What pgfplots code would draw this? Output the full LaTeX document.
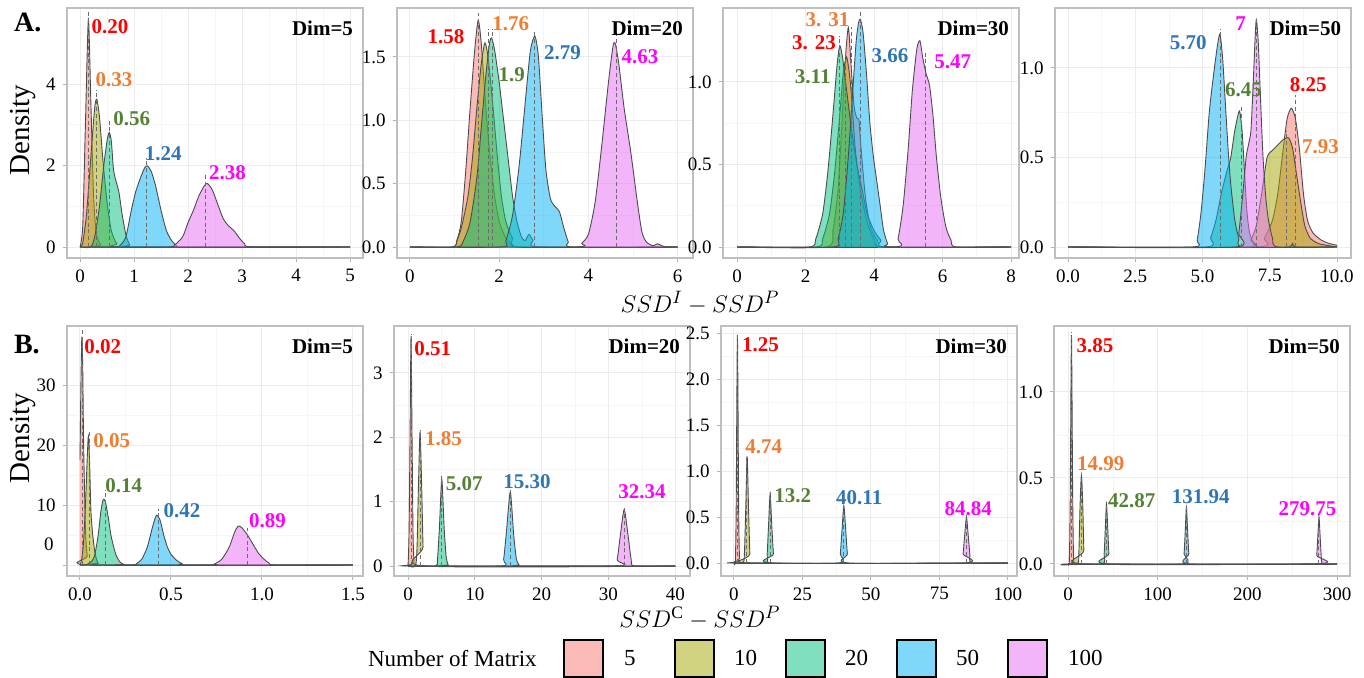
\documentclass[border=0pt]{standalone}
\usepackage{fontspec}
\setmainfont{Liberation Serif}
\usepackage{pgfplots}
\pgfplotsset{compat=1.18}

\definecolor{f5}{HTML}{F8766D}
\definecolor{f10}{HTML}{A3A500}
\definecolor{f20}{HTML}{00BF7D}
\definecolor{f50}{HTML}{00B0F6}
\definecolor{f100}{HTML}{E76BF3}
\definecolor{l5}{HTML}{FF0000}
\definecolor{l10}{HTML}{ED7D31}
\definecolor{l20}{HTML}{548235}
\definecolor{l50}{HTML}{2E75B6}
\definecolor{l100}{HTML}{FF00FF}

\pgfplotsset{
  panel/.style={
    scale only axis, width=148pt, height=125pt, anchor=south west,
    axis line style={gray!50, line width=0.6pt},
    grid=both,
    major grid style={gray!15, line width=0.5pt},
    minor grid style={gray!8, line width=0.35pt},
    minor tick num=1, minor tick length=0pt,
    tick align=outside, major tick length=2.2pt,
    tick style={gray!60, line width=0.5pt},
    xtick pos=bottom, ytick pos=left,
    tick label style={font=\fontsize{9.5}{10}\selectfont, text=black},
    /pgf/number format/assume math mode=true,
    clip=false,
  },
}
% one density: fill at half opacity, then its outline
\newcommand{\dens}[2]{%
  \addplot[draw=none, fill=#1, fill opacity=0.5, smooth, tension=0.4, forget plot] coordinates {#2} \closedcycle;
  \addplot[draw=black!70, line width=0.45pt, smooth, tension=0.4, forget plot] coordinates {#2};}
\newcommand{\mline}[2]{%
  \addplot[gray!85!black, dash pattern=on 2pt off 1.4pt, line width=0.5pt, forget plot] coordinates {(#1,0) (#1,#2)};}
\newcommand{\lab}[4]{\node[font=\bfseries\fontsize{10.5}{11}\selectfont, text=#1] at (axis cs:#2,#3) {#4};}
\newcommand{\dimlab}[1]{\node[anchor=east, font=\bfseries\fontsize{10.5}{11}\selectfont] at (rel axis cs:0.99,0.92) {Dim=#1};}

\begin{document}
\begin{tikzpicture}
\path[use as bounding box] (0,0) rectangle (682pt,-338.5pt);

% ---------------- row A ----------------
\begin{axis}[panel, at={(33.5pt,-129pt)},
  xmin=-0.241, xmax=5.24, ymin=-0.27, ymax=5.865,
  xtick={0,1,2,3,4,5}, ytick={0,2,4}]
\dens{f5}{(0,0) (0.05,0.5) (0.1,3.0) (0.155,5.6) (0.2,3.6) (0.25,1.3) (0.3,0.35) (0.38,0.05) (0.45,0) (5,0)}
\dens{f10}{(0,0) (0.05,0.1) (0.12,0.8) (0.2,2.2) (0.27,3.4) (0.31,3.63) (0.36,3.2) (0.42,2.2) (0.5,1.1) (0.58,0.4) (0.68,0.08) (0.8,0) (5,0)}
\dens{f20}{(0,0) (0.2,0) (0.28,0.3) (0.36,1.0) (0.44,2.0) (0.5,2.6) (0.54,2.81) (0.58,2.6) (0.62,1.9) (0.67,1.6) (0.72,1.35) (0.78,0.8) (0.85,0.3) (0.92,0.05) (1.0,0) (5,0)}
\dens{f50}{(0,0) (0.65,0) (0.75,0.05) (0.85,0.25) (0.95,0.9) (1.03,1.35) (1.12,1.7) (1.2,1.95) (1.25,1.99) (1.32,1.85) (1.4,1.5) (1.5,0.9) (1.6,0.4) (1.7,0.15) (1.8,0.02) (1.9,0) (5,0)}
\dens{f100}{(0,0) (1.6,0) (1.75,0.05) (1.9,0.25) (2.0,0.6) (2.1,0.9) (2.2,1.25) (2.3,1.5) (2.36,1.56) (2.45,1.4) (2.55,1.05) (2.65,0.7) (2.75,0.52) (2.85,0.4) (2.95,0.22) (3.05,0.08) (3.2,0) (5,0)}
\mline{0.15}{5.78}\mline{0.31}{3.85}\mline{0.55}{3.12}\mline{1.24}{2.18}\mline{2.33}{1.8}
\lab{l5}{0.556}{5.4}{0.20}
\lab{l10}{0.63}{4.1}{0.33}
\lab{l20}{0.957}{3.16}{0.56}
\lab{l50}{1.54}{2.3}{1.24}
\lab{l100}{2.73}{1.82}{2.38}
\dimlab{5}
\end{axis}

\begin{axis}[panel, at={(198.5pt,-129pt)},
  xmin=-0.291, xmax=6.346, ymin=-0.0868, ymax=1.886,
  xtick={0,2,4,6}, ytick={0,0.5,1,1.5}, yticklabels={0.0,0.5,1.0,1.5}]
\dens{f5}{(0,0) (0.95,0) (1.05,0.05) (1.15,0.2) (1.25,0.6) (1.35,1.1) (1.45,1.55) (1.53,1.79) (1.6,1.6) (1.7,1.1) (1.8,0.7) (1.9,0.4) (2.0,0.2) (2.15,0.07) (2.3,0.02) (2.5,0) (6,0)}
\dens{f10}{(0,0) (0.95,0) (1.05,0.05) (1.15,0.15) (1.3,0.4) (1.4,0.7) (1.5,1.1) (1.6,1.45) (1.68,1.61) (1.75,1.5) (1.85,1.15) (1.95,0.75) (2.05,0.4) (2.15,0.2) (2.3,0.07) (2.5,0) (6,0)}
\dens{f20}{(0,0) (1.05,0) (1.2,0.05) (1.35,0.2) (1.5,0.55) (1.6,0.95) (1.7,1.35) (1.78,1.6) (1.83,1.65) (1.9,1.55) (2.0,1.3) (2.1,1.0) (2.2,0.7) (2.3,0.4) (2.4,0.2) (2.5,0.08) (2.58,0.05) (2.67,0.1) (2.76,0.05) (2.9,0) (6,0)}
\dens{f50}{(0,0) (2.05,0) (2.15,0.05) (2.3,0.25) (2.45,0.65) (2.6,1.2) (2.7,1.55) (2.8,1.665) (2.88,1.5) (2.97,1.0) (3.05,0.6) (3.15,0.38) (3.25,0.32) (3.35,0.28) (3.45,0.15) (3.55,0.04) (3.65,0) (6,0)}
\dens{f100}{(0,0) (3.7,0) (3.85,0.03) (4.0,0.1) (4.15,0.35) (4.3,0.8) (4.45,1.3) (4.55,1.58) (4.6,1.61) (4.68,1.45) (4.8,1.1) (4.95,0.75) (5.1,0.35) (5.2,0.12) (5.3,0.04) (5.45,0.01) (5.55,0.025) (5.65,0.01) (5.75,0) (6,0)}
\mline{1.53}{1.85}\mline{1.76}{1.72}\mline{1.85}{1.72}\mline{2.8}{1.71}\mline{4.63}{1.69}
\lab{l5}{0.81}{1.66}{1.58}
\lab{l10}{2.26}{1.76}{1.76}
\lab{l20}{2.28}{1.36}{1.9}
\lab{l50}{3.42}{1.53}{2.79}
\lab{l100}{5.16}{1.50}{4.63}
\dimlab{20}
\end{axis}

\begin{axis}[panel, at={(361.5pt,-129pt)},
  xmin=-0.409, xmax=8.233, ymin=-0.0667, ymax=1.448,
  xtick={0,2,4,6,8}, ytick={0,0.5,1}, yticklabels={0.0,0.5,1.0}]
\dens{f5}{(0,0) (2.6,0) (2.8,0.1) (2.95,0.35) (3.05,0.7) (3.15,1.1) (3.25,1.33) (3.33,1.1) (3.42,0.85) (3.5,0.78) (3.56,0.77) (3.62,0.6) (3.75,0.3) (3.9,0.12) (4.1,0.04) (4.3,0) (8,0)}
\dens{f10}{(0,0) (2.3,0) (2.5,0.05) (2.7,0.2) (2.85,0.45) (3.0,0.8) (3.1,1.05) (3.2,1.15) (3.28,1.05) (3.35,0.9) (3.45,0.6) (3.6,0.35) (3.8,0.15) (4.0,0.05) (4.3,0) (8,0)}
\dens{f20}{(0,0) (2.1,0) (2.3,0.05) (2.5,0.2) (2.65,0.45) (2.8,0.8) (2.92,1.1) (3.0,1.22) (3.08,1.15) (3.2,0.95) (3.35,0.7) (3.5,0.5) (3.65,0.35) (3.8,0.2) (4.0,0.1) (4.2,0.04) (4.35,0) (8,0)}
\dens{f50}{(0,0) (2.8,0) (2.95,0.05) (3.1,0.2) (3.25,0.55) (3.38,0.95) (3.48,1.25) (3.55,1.36) (3.6,1.38) (3.68,1.3) (3.78,1.05) (3.88,0.75) (3.98,0.55) (4.08,0.4) (4.18,0.25) (4.28,0.1) (4.4,0.02) (4.5,0) (8,0)}
\dens{f100}{(0,0) (4.55,0) (4.7,0.05) (4.85,0.25) (5.0,0.6) (5.12,0.95) (5.25,1.2) (5.34,1.25) (5.42,1.15) (5.52,1.05) (5.62,0.98) (5.72,0.8) (5.82,0.55) (5.95,0.3) (6.1,0.12) (6.25,0.04) (6.4,0) (8,0)}
\mline{2.99}{1.28}\mline{3.18}{1.17}\mline{3.35}{1.33}\mline{3.61}{1.43}\mline{5.49}{1.18}
\lab{l10}{2.64}{1.38}{3. 31}
\lab{l5}{2.25}{1.24}{3. 23}
\lab{l20}{2.21}{1.03}{3.11}
\lab{l50}{4.47}{1.16}{3.66}
\lab{l100}{6.3}{1.12}{5.47}
\dimlab{30}
\end{axis}

\begin{axis}[panel, at={(527.5pt,-129pt)},
  xmin=-0.483, xmax=10.52, ymin=-0.0615, ymax=1.335,
  xtick={0,2.5,5,7.5,10}, xticklabels={0.0,2.5,5.0,7.5,10.0},
  ytick={0,0.5,1}, yticklabels={0.0,0.5,1.0}]
\dens{f5}{(0,0) (7.0,0) (7.3,0.05) (7.6,0.15) (7.8,0.3) (8.0,0.55) (8.15,0.72) (8.3,0.775) (8.45,0.72) (8.6,0.55) (8.75,0.3) (8.9,0.15) (9.1,0.08) (9.4,0.04) (9.7,0.02) (10,0.01)}
\dens{f10}{(0,0) (6.6,0) (6.8,0.04) (7.0,0.12) (7.2,0.3) (7.4,0.5) (7.6,0.54) (7.8,0.57) (8.0,0.6) (8.2,0.61) (8.35,0.55) (8.5,0.4) (8.65,0.25) (8.8,0.12) (9.0,0.05) (9.3,0.02) (9.6,0.01) (10,0)}
\dens{f20}{(0,0) (5.1,0) (5.3,0.05) (5.5,0.15) (5.7,0.3) (5.9,0.42) (6.05,0.5) (6.2,0.65) (6.37,0.76) (6.47,0.65) (6.55,0.45) (6.65,0.2) (6.75,0.08) (6.9,0.02) (7.1,0) (8.2,0) (8.35,0.02) (8.5,0) (10,0)}
\dens{f50}{(0,0) (4.6,0) (4.8,0.04) (4.95,0.2) (5.1,0.45) (5.25,0.75) (5.4,0.95) (5.55,1.12) (5.65,1.19) (5.75,1.05) (5.85,0.8) (5.95,0.55) (6.05,0.35) (6.2,0.15) (6.35,0.05) (6.55,0) (10,0)}
\dens{f100}{(0,0) (6.2,0) (6.35,0.08) (6.5,0.3) (6.62,0.5) (6.72,0.58) (6.8,0.65) (6.88,0.9) (6.95,1.15) (7.0,1.27) (7.07,1.15) (7.15,0.85) (7.25,0.5) (7.35,0.28) (7.45,0.15) (7.6,0.05) (7.8,0) (10,0)}
\mline{5.68}{1.22}\mline{6.46}{0.79}\mline{7.01}{1.29}\mline{8.13}{0.65}\mline{8.44}{0.85}
\lab{l50}{4.47}{1.14}{5.70}
\lab{l100}{6.42}{1.25}{7}
\lab{l20}{6.52}{0.88}{6.45}
\lab{l5}{8.93}{0.905}{8.25}
\lab{l10}{9.39}{0.56}{7.93}
\dimlab{50}
\end{axis}

% ---------------- row B ----------------
\begin{axis}[panel, at={(33.5pt,-288pt)},
  xmin=-0.0714, xmax=1.555, ymin=-1.833, ymax=39.83,
  xtick={0,0.5,1,1.5}, xticklabels={0.0,0.5,1.0,1.5},
  ytick={0,10,20,30}, yticklabels={,10,20,30}]
\dens{f5}{(0,17.5) (0.005,30) (0.01,37.8) (0.015,33) (0.02,20) (0.03,6) (0.04,1.5) (0.06,0) (1.5,0)}
\dens{f10}{(0,0) (0.01,1) (0.02,4) (0.03,10) (0.04,18) (0.046,21.5) (0.052,18) (0.06,9) (0.07,5) (0.08,2.5) (0.09,1) (0.1,0.3) (0.12,0) (1.5,0)}
\dens{f20}{(0,0) (0.03,0) (0.06,0.5) (0.08,1.5) (0.1,5) (0.115,9) (0.128,10.95) (0.14,10.5) (0.155,8) (0.17,5) (0.185,3) (0.2,1.5) (0.22,0.5) (0.24,0.1) (0.26,0) (1.5,0)}
\dens{f50}{(0,0) (0.28,0) (0.31,0.2) (0.34,1) (0.37,3) (0.4,6.5) (0.42,8.3) (0.44,7.5) (0.46,5) (0.48,3) (0.5,1.8) (0.53,0.8) (0.56,0.25) (0.6,0) (1.5,0)}
\dens{f100}{(0,0) (0.7,0) (0.74,0.2) (0.78,1) (0.82,3) (0.85,5.5) (0.87,6.5) (0.89,6.2) (0.92,5) (0.95,3.5) (0.98,2) (1.01,1) (1.04,0.3) (1.08,0) (1.5,0)}
\mline{0.015}{39.5}\mline{0.05}{22.5}\mline{0.14}{12.5}\mline{0.43}{9.4}\mline{0.92}{6.1}
\lab{l5}{0.125}{36.4}{0.02}
\lab{l10}{0.174}{20.7}{0.05}
\lab{l20}{0.24}{13.3}{0.14}
\lab{l50}{0.56}{9.05}{0.42}
\lab{l100}{1.03}{7.4}{0.89}
\node[anchor=east, font=\fontsize{9.5}{10}\selectfont] at (axis cs:-0.0714,3.5) [xshift=-3.2pt] {0};
\dimlab{5}
\end{axis}

\begin{axis}[panel, at={(197pt,-288pt)},
  xmin=-2.1, xmax=42.2, ymin=-0.155, ymax=3.727,
  xtick={0,10,20,30,40}, ytick={0,1,2,3}]
\dens{f5}{(0,0) (0.15,0.5) (0.3,2) (0.45,3.57) (0.6,2) (0.75,0.5) (0.9,0.05) (1.0,0) (40,0)}
\dens{f10}{(0,0) (1.1,0) (1.35,0.3) (1.55,1.2) (1.8,2.09) (2.05,1.2) (2.25,0.3) (2.5,0) (40,0)}
\dens{f20}{(0,0) (4.1,0) (4.4,0.1) (4.7,0.6) (5.05,1.35) (5.4,0.6) (5.7,0.15) (6.0,0.02) (6.3,0) (40,0)}
\dens{f50}{(0,0) (13.9,0) (14.3,0.1) (14.7,0.5) (15.3,1.15) (15.8,0.5) (16.2,0.12) (16.6,0.02) (17,0) (40,0)}
\dens{f100}{(0,0) (30.8,0) (31.3,0.1) (31.8,0.5) (32.35,0.88) (32.9,0.5) (33.4,0.1) (33.9,0) (40,0)}
\mline{0.51}{3.6}\mline{1.85}{2.12}\mline{5.07}{1.4}\mline{15.3}{1.18}\mline{32.34}{0.93}
\lab{l5}{3.7}{3.38}{0.51}
\lab{l10}{5.3}{1.97}{1.85}
\lab{l20}{8.4}{1.28}{5.07}
\lab{l50}{17.8}{1.31}{15.30}
\lab{l100}{35}{1.15}{32.34}
\dimlab{20}
\end{axis}

\begin{axis}[panel, at={(360.5pt,-288pt)},
  xmin=-4.74, xmax=103.3, ymin=-0.141, ymax=2.576,
  xtick={0,25,50,75,100}, ytick={0,0.5,1,1.5,2,2.5},
  yticklabels={0.0,0.5,1.0,1.5,2.0,2.5}]
\dens{f5}{(0,0) (0.5,0.02) (0.8,0.6) (1.25,2.48) (1.7,0.6) (2.0,0.05) (2.3,0) (100,0)}
\dens{f10}{(0,0) (3.3,0) (3.8,0.1) (4.3,0.6) (4.8,1.16) (5.3,0.6) (5.8,0.1) (6.3,0) (100,0)}
\dens{f20}{(0,0) (11.5,0) (12.1,0.1) (12.6,0.4) (13.2,0.75) (13.8,0.4) (14.4,0.1) (15,0) (100,0)}
\dens{f50}{(0,0) (38,0) (38.8,0.1) (39.4,0.35) (40.1,0.62) (40.8,0.35) (41.4,0.1) (42.2,0) (100,0)}
\dens{f100}{(0,0) (82.8,0) (83.6,0.1) (84.2,0.3) (84.85,0.5) (85.5,0.3) (86.1,0.1) (86.9,0) (100,0)}
\mline{1.25}{2.5}\mline{4.74}{1.18}\mline{13.2}{0.77}\mline{40.11}{0.64}\mline{84.84}{0.52}
\lab{l5}{9.7}{2.37}{1.25}
\lab{l10}{10.9}{1.26}{4.74}
\lab{l20}{21.4}{0.73}{13.2}
\lab{l50}{45.7}{0.71}{40.11}
\lab{l100}{85.5}{0.59}{84.84}
\dimlab{30}
\end{axis}

\begin{axis}[panel, at={(527pt,-288pt)},
  xmin=-15.6, xmax=314.4, ymin=-0.07, ymax=1.383,
  xtick={0,100,200,300}, ytick={0,0.5,1}, yticklabels={0.0,0.5,1.0}]
\dens{f5}{(0,0) (1.5,0.02) (2.5,0.4) (3.85,1.33) (5.2,0.4) (6.2,0.02) (7,0) (300,0)}
\dens{f10}{(0,0) (11,0) (12.2,0.08) (13.5,0.35) (14.99,0.52) (16.4,0.35) (17.7,0.08) (19,0) (300,0)}
\dens{f20}{(0,0) (38.5,0) (40.3,0.06) (41.7,0.22) (42.9,0.35) (44.2,0.22) (45.6,0.06) (47.3,0) (300,0)}
\dens{f50}{(0,0) (127.5,0) (129.4,0.06) (130.8,0.2) (132,0.33) (133.3,0.2) (134.7,0.06) (136.5,0) (300,0)}
\dens{f100}{(0,0) (275.5,0) (277.3,0.05) (278.6,0.17) (279.8,0.275) (281,0.17) (282.3,0.05) (284,0) (300,0)}
\mline{3.85}{1.35}\mline{14.99}{0.53}\mline{42.87}{0.36}\mline{131.94}{0.34}\mline{279.75}{0.29}
\lab{l5}{30}{1.27}{3.85}
\lab{l10}{36.4}{0.58}{14.99}
\lab{l20}{71}{0.37}{42.87}
\lab{l50}{148}{0.39}{131.94}
\lab{l100}{267}{0.32}{279.75}
\dimlab{50}
\end{axis}

% ---------------- outer texts ----------------
\node[anchor=west, font=\bfseries\fontsize{14}{15}\selectfont] at (3.5pt,-11pt) {A.};
\node[anchor=west, font=\bfseries\fontsize{14}{15}\selectfont] at (3.5pt,-172.5pt) {B.};
\node[rotate=90, font=\fontsize{14.5}{15}\selectfont] at (11.5pt,-65pt) {Density};
\node[rotate=90, font=\fontsize{14.5}{15}\selectfont] at (11.5pt,-219pt) {Density};
\node[font=\fontsize{12.5}{13}\selectfont] at (350pt,-151.5pt) {$SSD^{I}-SSD^{P}$};
\node[font=\fontsize{12.5}{13}\selectfont] at (350pt,-309pt) {$SSD^{\mathrm{C}}-SSD^{P}$};

% legend
\node[anchor=west, font=\fontsize{11.5}{12}\selectfont] at (180.5pt,-329pt) {Number of Matrix};
\foreach \c/\xa/\xl/\t in {f5/282/308.5/5, f10/337.5/363.5/10, f20/393/419/20, f50/448.5/474.5/50, f100/504/530.5/100}{
  \fill[\c, fill opacity=0.5] (\xa pt,-320pt) rectangle (\xa pt+19.5pt,-338.5pt);
  \draw[black, line width=0.7pt] (\xa pt,-320pt) rectangle (\xa pt+19.5pt,-338.5pt);
  \node[anchor=west, font=\fontsize{11.5}{12}\selectfont] at (\xl pt,-329pt) {\t};
}
\end{tikzpicture}
\end{document}
